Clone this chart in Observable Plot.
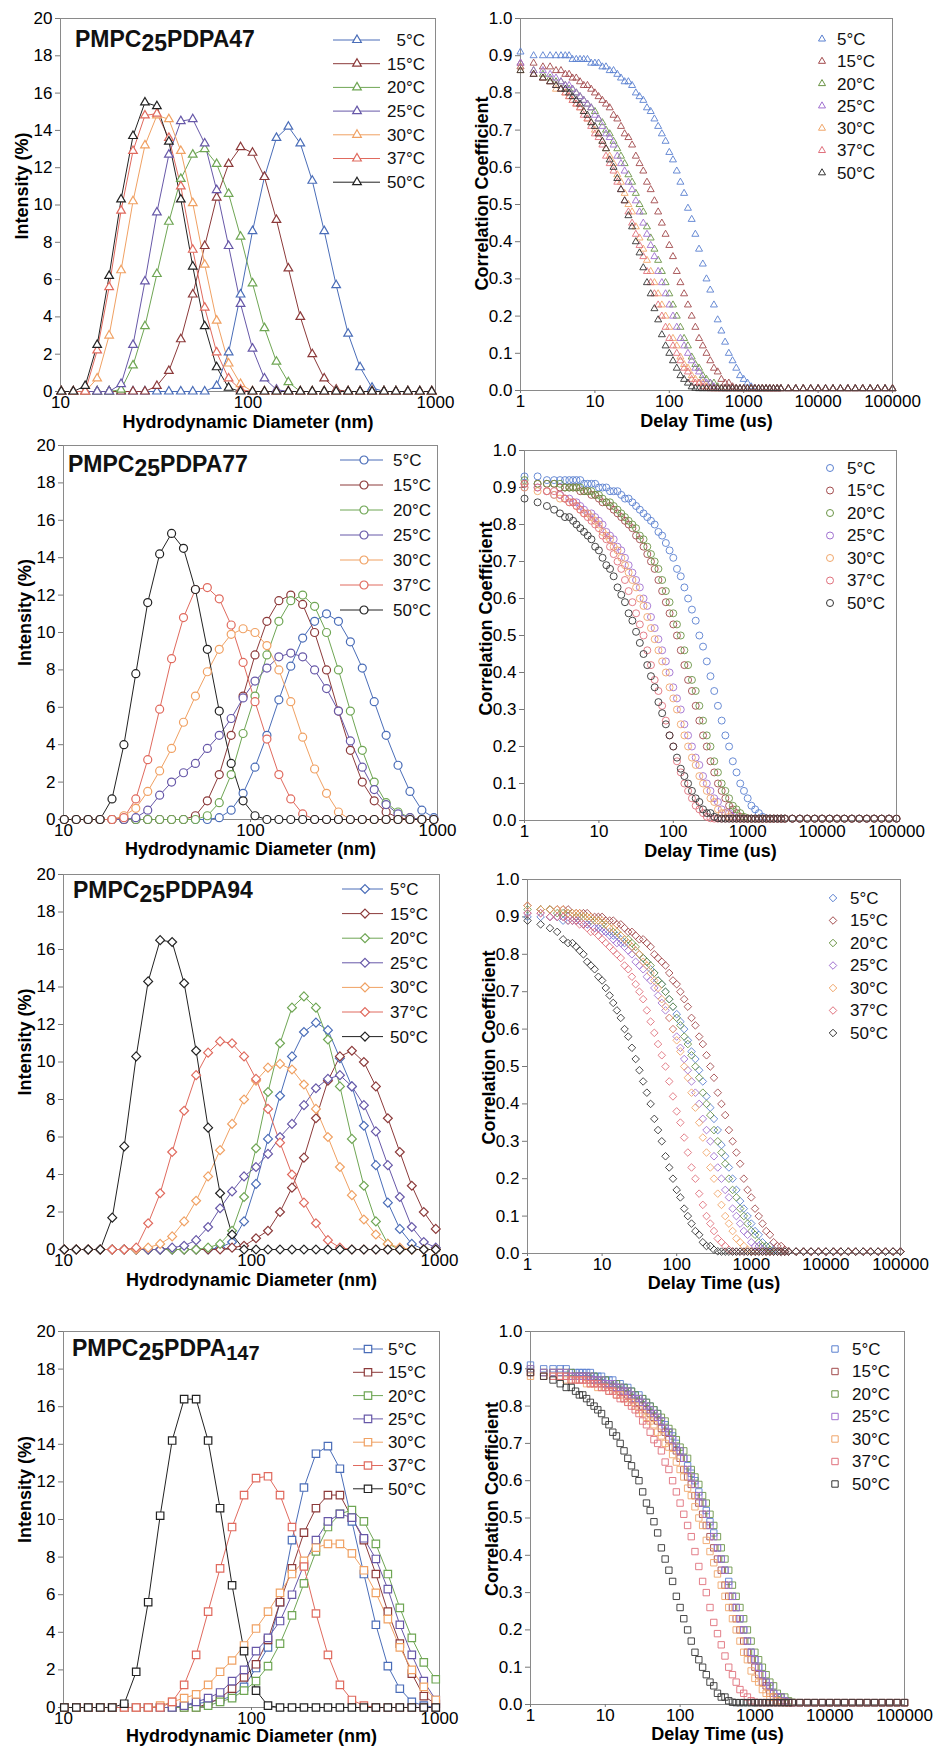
<!DOCTYPE html>
<html><head><meta charset="utf-8">
<script src="https://cdn.jsdelivr.net/npm/d3@7"></script>
<script src="https://cdn.jsdelivr.net/npm/@observablehq/plot@0.6"></script>
<style>
body{margin:0;background:#fff;}
#page{position:relative;width:936px;height:1746px;overflow:hidden;background:#fff;}
.panel{position:absolute;}
</style></head><body><div id="page"></div>
<script>
const temperatures = ["5°C","15°C","20°C","25°C","30°C","37°C","50°C"];
const diameterBins = [10.10,11.70,13.54,15.69,18.17,21.04,24.36,28.21,32.67,37.84,43.82,50.75,58.77,68.06,78.82,91.28,105.7,122.4,141.8,164.2,190.1,220.2,255.0,295.3,342.0,396.1,458.7,531.2,615.1,712.4,825.0,955.4];
const delayTimes = [1,1.5,2,2.5,3,3.5,4,4.5,5,5.62,6.31,7.08,7.94,8.91,10,11.2,12.6,14.1,15.8,17.8,20,22.4,25.1,28.2,31.6,35.5,39.8,44.7,50.1,56.2,63.1,70.8,79.4,89.1,100,112,126,141,158,178,200,224,251,282,316,355,398,447,501,562,631,708,794,891,1000,1122,1259,1413,1585,1778,1995,2239,2512,2818,3162,3981,5012,6310,7943,10000,12589,15849,19953,25119,31623,39811,50119,63096,79433,100000];
const intensityTicks = [0,2,4,6,8,10,12,14,16,18,20];
const diameterTicks = [10,100,1000];
const correlationTicks = [0,0.1,0.2,0.3,0.4,0.5,0.6,0.7,0.8,0.9,1.0];
const delayTicks = [1,10,100,1000,10000,100000];

// Intensity distributions (%)
const int47_5 = [0,0,0,0,0,0,0,0,0,0,0,0,0,.3,2.1,5.2,8.6,11.5,13.6,14.2,13.3,11.3,8.6,5.7,3.1,1.3,.2,0,0,0,0,0];
const int47_15 = [0,0,0,0,0,0,0,0,.3,1.1,2.8,5.2,7.8,10.4,12.2,13.1,12.8,11.5,9.2,6.6,4.0,2.0,.7,.1,0,0,0,0,0,0,0,0];
const int47_20 = [0,0,0,0,0,.1,1.4,3.5,6.3,9.1,11.4,12.7,13.0,12.2,10.6,8.3,5.8,3.4,1.6,.5,0,0,0,0,0,0,0,0,0,0,0,0];
const int47_25 = [0,0,0,0,0,.4,2.5,5.9,9.6,12.7,14.5,14.6,13.3,10.8,7.8,4.7,2.3,.7,.1,0,0,0,0,0,0,0,0,0,0,0,0,0];
const int47_30 = [0,0,0,.7,3.0,6.5,10.2,13.2,14.8,14.6,12.9,10.1,6.8,3.8,1.5,.4,0,0,0,0,0,0,0,0,0,0,0,0,0,0,0,0];
const int47_37 = [0,0,0,2.2,5.6,9.7,12.9,14.8,14.9,13.6,11.0,7.6,4.5,2.1,.7,.1,0,0,0,0,0,0,0,0,0,0,0,0,0,0,0,0];
const int47_50 = [0,0,.3,2.5,6.2,10.3,13.7,15.5,15.3,13.4,10.3,6.7,3.5,1.3,.2,0,0,0,0,0,0,0,0,0,0,0,0,0,0,0,0,0];

const int77_5 = [0,0,0,0,0,0,0,0,0,0,0,0,0,.1,.5,1.4,2.8,4.5,6.4,8.2,9.7,10.6,11.0,10.6,9.5,8.1,6.3,4.5,2.9,1.5,.5,.1];
const int77_15 = [0,0,0,0,0,0,0,0,0,0,0,.2,1.0,2.4,4.5,6.6,8.8,10.6,11.7,12.0,11.5,10.0,8.0,5.8,3.7,2.0,1.0,.4,.1,0,0,0];
const int77_20 = [0,0,0,0,0,0,0,0,0,0,0,0,.2,.9,2.4,4.6,6.6,8.8,10.6,11.7,12.0,11.4,10.0,8.0,5.8,3.7,2.0,.9,.4,.1,0,0];
const int77_25 = [0,0,0,0,0,0,.1,.5,1.3,2.0,2.5,3.0,3.8,4.5,5.4,6.5,7.4,8.1,8.7,8.9,8.7,8.0,7.0,5.8,4.2,2.8,1.6,.8,.3,.1,0,0];
const int77_30 = [0,0,0,0,0,.2,.6,1.5,2.6,3.8,5.2,6.6,7.9,9.1,9.9,10.2,10.0,9.3,8.0,6.3,4.4,2.7,1.4,.4,0,0,0,0,0,0,0,0];
const int77_37 = [0,0,0,0,0,.1,1.1,3.2,5.9,8.6,10.8,12.3,12.4,11.8,10.4,8.4,6.3,4.3,2.4,1.1,.3,0,0,0,0,0,0,0,0,0,0,0];
const int77_50 = [0,0,0,0,1.1,4.0,7.8,11.6,14.2,15.3,14.5,12.3,9.1,5.8,3.0,1.0,.2,0,0,0,0,0,0,0,0,0,0,0,0,0,0,0];

const int94_5 = [0,0,0,0,0,0,0,0,0,0,0,0,0,.1,.4,1.5,3.5,5.9,8.2,10.3,11.6,12.1,11.7,10.2,8.7,6.6,4.5,2.5,1.1,.3,0,0];
const int94_15 = [0,0,0,0,0,0,0,0,0,0,0,0,0,0,.1,.2,.6,1.0,2.0,3.3,4.9,7.0,9.0,10.3,10.6,10.0,8.7,7.0,5.2,3.4,2.0,1.1];
const int94_20 = [0,0,0,0,0,0,0,0,0,0,0,0,.1,.3,1.0,2.8,5.4,8.4,11.0,12.9,13.5,12.9,11.2,8.7,5.9,3.4,1.5,.3,0,0,0,0];
const int94_25 = [0,0,0,0,0,0,0,0,0,.1,.2,.5,1.2,2.2,3.1,3.9,4.4,5.1,6.0,6.7,7.7,8.6,9.1,9.3,8.7,7.7,6.3,4.5,2.8,1.2,.4,.1];
const int94_30 = [0,0,0,0,0,0,0,.1,.3,.7,1.5,2.6,3.9,5.3,6.7,8.0,9.0,9.7,9.9,9.6,8.8,7.5,6.0,4.4,2.9,1.6,.8,.3,.1,0,0,0];
const int94_37 = [0,0,0,0,0,0,.1,1.4,3.0,5.2,7.4,9.3,10.5,11.1,11.0,10.3,9.1,7.5,5.7,4.0,2.5,1.4,.5,.1,0,0,0,0,0,0,0,0];
const int94_50 = [0,0,0,0,1.7,5.5,10.3,14.3,16.5,16.4,14.2,10.6,6.5,3.0,.8,0,0,0,0,0,0,0,0,0,0,0,0,0,0,0,0,0];

const int147_5 = [0,0,0,0,0,0,0,0,0,0,.1,.2,.3,.4,.6,1.1,2.1,3.2,5.6,8.9,11.7,13.5,13.9,12.7,9.9,7.1,4.4,2.2,1.0,.3,.1,0];
const int147_15 = [0,0,0,0,0,0,0,0,0,0,0,0,.2,.5,1.0,1.6,2.3,3.6,5.6,7.4,9.3,10.6,11.3,11.3,10.1,8.9,7.1,5.1,3.4,1.8,.6,.2];
const int147_20 = [0,0,0,0,0,0,0,0,0,0,0,0,.1,.3,.5,.9,1.4,2.2,3.4,4.9,6.6,8.3,9.6,10.3,10.5,9.9,8.7,7.1,5.3,3.7,2.4,1.5];
const int147_25 = [0,0,0,0,0,0,0,0,0,0,.1,.3,.5,.8,1.4,2.0,3.0,3.7,4.6,6.0,7.6,8.9,9.9,10.3,10.1,9.0,7.9,6.3,4.4,2.8,1.4,.4];
const int147_30 = [0,0,0,0,0,0,0,0,.1,.3,.5,.7,1.2,1.9,2.5,3.3,4.2,5.1,6.1,7.1,7.8,8.5,8.7,8.7,8.2,7.3,6.1,4.7,3.2,2.0,1.1,.4];
const int147_37 = [0,0,0,0,0,0,0,0,0,.3,1.2,2.8,5.1,7.4,9.6,11.3,12.2,12.3,11.3,9.6,7.5,5.0,2.8,1.2,.4,.1,0,0,0,0,0,0];
const int147_50 = [0,0,0,0,0,.2,1.9,5.6,10.2,14.2,16.4,16.4,14.2,10.6,6.5,3.0,.9,.1,0,0,0,0,0,0,0,0,0,0,0,0,0,0];

// Correlation functions
const corr47_5 = [.91,.90,.90,.90,.90,.90,.90,.90,
.89,.89,.89,.89,.89,.88,.88,.88,.87,.87,.86,.86,.85,.84,.83,.83,.82,.80,.79,.78,.76,.75,.73,.71,.69,.67,.64,.62,.59,.56,.53,.49,.46,.42,.38,.34,.30,.27,.23,.19,.16,.13,.10,.08,.06,.04,.03,.02,.01,.006,
.005,.005,.005,.005,.005,.005,.005,.005,.005,.005,.005,.005,.005,.005,.005,.005,.005,.005,.005,.005,.005,.005];
const corr47_15 = [.88,.88,.87,.87,.86,.86,.85,.85,
.84,.84,.83,.82,.82,.81,.80,.79,.78,.77,.76,.74,.73,.71,.69,.68,.66,.63,.61,.59,.56,.54,.51,.48,.45,.42,.39,.36,.32,.29,.26,.23,.20,.17,.14,.12,.10,.08,.06,.05,.03,.02,.02,.01,.006,
.005,.005,.005,.005,.005,.005,.005,.005,.005,.005,.005,.005,.005,.005,.005,.005,.005,.005,.005,.005,.005,.005,.005,.005,.005,.005,.005];
const corr47_20 = [.87,.86,.85,.84,.83,.83,.82,.81,
.81,.80,.79,.78,.77,.76,.75,.73,.72,.70,.69,.67,.65,.63,.61,.58,.56,.53,.50,.48,.44,.41,.38,.35,.32,.29,.26,.23,.20,.17,.14,.12,.09,.07,.06,.04,.03,.02,.02,.01,.006,
.005,.005,.005,.005,.005,.005,.005,.005,.005,.005,.005,.005,.005,.005,.005,.005,.005,.005,.005,.005,.005,.005,.005,.005,.005,.005,.005,.005,.005,.005,.005];
const corr47_25 = [.88,.86,.86,.85,.84,.83,.82,.82,
.81,.80,.79,.78,.77,.76,.74,.73,.71,.69,.68,.66,.63,.61,.59,.56,.54,.51,.48,.45,.42,.39,.36,.32,.29,.26,.23,.20,.17,.14,.12,.10,.08,.06,.05,.03,.02,.02,.01,.006,
.005,.005,.005,.005,.005,.005,.005,.005,.005,.005,.005,.005,.005,.005,.005,.005,.005,.005,.005,.005,.005,.005,.005,.005,.005,.005,.005,.005,.005,.005,.005,.005];
const corr47_30 = [.86,.85,.84,.83,.81,.81,.80,.79,
.78,.77,.76,.75,.73,.72,.70,.69,.67,.65,.63,.61,.58,.56,.53,.50,.48,.44,.41,.38,.35,.32,.29,.26,.23,.20,.17,.14,.12,.09,.07,.06,.04,.03,.02,.02,.01,.006,
.005,.005,.005,.005,.005,.005,.005,.005,.005,.005,.005,.005,.005,.005,.005,.005,.005,.005,.005,.005,.005,.005,.005,.005,.005,.005,.005,.005,.005,.005,.005,.005,.005,.005];
const corr47_37 = [.87,.85,.84,.83,.82,.81,.80,.79,
.78,.77,.76,.74,.73,.71,.69,.68,.66,.63,.61,.59,.56,.54,.51,.48,.45,.42,.39,.36,.32,.29,.26,.23,.20,.17,.14,.12,.10,.08,.06,.05,.03,.02,.02,.01,.006,
.005,.005,.005,.005,.005,.005,.005,.005,.005,.005,.005,.005,.005,.005,.005,.005,.005,.005,.005,.005,.005,.005,.005,.005,.005,.005,.005,.005,.005,.005,.005,.005,.005,.005,.005];
const corr47_50 = [.86,.85,.84,.83,.82,.81,.81,.80,
.79,.78,.77,.75,.74,.72,.71,.69,.67,.65,.62,.60,.57,.54,.51,.47,.44,.40,.37,.33,.29,.26,.22,.19,.15,.12,.10,.08,.06,.04,.03,.02,.01,.006,
.005,.005,.005,.005,.005,.005,.005,.005,.005,.005,.005,.005,.005,.005,.005,.005,.005,.005,.005,.005,.005,.005,.005,.005,.005,.005,.005,.005,.005,.005,.005,.005,.005,.005,.005,.005,.005,.005];

const corr77_5 = [.93,.93,.92,.92,.92,.92,.92,.92,
.92,.92,.91,.91,.91,.91,.90,.90,.90,.89,.89,.89,.88,.87,.87,.86,.85,.84,.83,.82,.81,.80,.78,.77,.75,.73,.71,.68,.66,.63,.60,.57,.54,.50,.47,.43,.39,.35,.31,.27,.23,.20,.16,.13,.10,.08,.06,.04,.03,.02,.01,.006,
.005,.005,.005,.005,.005,.005,.005,.005,.005,.005,.005,.005,.005,.005,.005,.005,.005,.005,.005,.005];
const corr77_15 = [.91,.91,.91,.91,.90,.90,.90,.90,
.90,.89,.89,.89,.88,.88,.87,.86,.86,.85,.84,.83,.82,.81,.80,.79,.77,.76,.74,.72,.70,.68,.65,.62,.59,.56,.53,.50,.46,.42,.38,.35,.31,.27,.23,.20,.16,.13,.10,.08,.06,.04,.03,.02,.01,.006,
.005,.005,.005,.005,.005,.005,.005,.005,.005,.005,.005,.005,.005,.005,.005,.005,.005,.005,.005,.005,.005,.005,.005,.005,.005,.005];
const corr77_20 = [.92,.91,.91,.91,.91,.90,.90,.90,
.90,.90,.89,.89,.89,.88,.88,.87,.86,.86,.85,.84,.83,.82,.81,.80,.79,.77,.76,.74,.72,.70,.68,.65,.62,.59,.56,.53,.50,.46,.42,.38,.35,.31,.27,.23,.20,.16,.13,.10,.08,.06,.04,.03,.02,.01,.006,
.005,.005,.005,.005,.005,.005,.005,.005,.005,.005,.005,.005,.005,.005,.005,.005,.005,.005,.005,.005,.005,.005,.005,.005,.005];
const corr77_25 = [.90,.90,.89,.88,.88,.87,.87,.86,
.86,.85,.84,.83,.83,.82,.81,.80,.78,.77,.76,.74,.73,.71,.69,.67,.65,.63,.60,.58,.55,.52,.49,.46,.43,.40,.36,.33,.30,.26,.23,.20,.17,.15,.12,.10,.08,.06,.05,.03,.02,.02,.01,.006,
.005,.005,.005,.005,.005,.005,.005,.005,.005,.005,.005,.005,.005,.005,.005,.005,.005,.005,.005,.005,.005,.005,.005,.005,.005,.005,.005,.005];
const corr77_30 = [.90,.89,.89,.88,.87,.87,.86,.86,
.85,.84,.83,.83,.82,.81,.80,.78,.77,.76,.74,.73,.71,.69,.67,.65,.63,.60,.58,.55,.52,.49,.46,.43,.40,.36,.33,.30,.26,.23,.20,.17,.15,.12,.10,.08,.06,.05,.03,.02,.02,.01,.006,
.005,.005,.005,.005,.005,.005,.005,.005,.005,.005,.005,.005,.005,.005,.005,.005,.005,.005,.005,.005,.005,.005,.005,.005,.005,.005,.005,.005,.005];
const corr77_37 = [.91,.90,.89,.89,.88,.87,.86,.86,
.85,.84,.83,.82,.81,.80,.79,.77,.76,.74,.72,.70,.68,.65,.62,.59,.56,.53,.50,.46,.42,.38,.35,.31,.27,.23,.20,.16,.13,.10,.08,.06,.04,.03,.02,.01,.006,
.005,.005,.005,.005,.005,.005,.005,.005,.005,.005,.005,.005,.005,.005,.005,.005,.005,.005,.005,.005,.005,.005,.005,.005,.005,.005,.005,.005,.005,.005,.005,.005,.005,.005,.005];
const corr77_50 = [.87,.86,.85,.84,.83,.82,.82,.81,
.80,.79,.78,.77,.76,.74,.73,.71,.69,.68,.66,.63,.61,.59,.56,.54,.51,.48,.45,.42,.39,.36,.32,.29,.26,.23,.20,.17,.14,.12,.10,.08,.06,.05,.03,.02,.02,.01,.006,
.005,.005,.005,.005,.005,.005,.005,.005,.005,.005,.005,.005,.005,.005,.005,.005,.005,.005,.005,.005,.005,.005,.005,.005,.005,.005,.005,.005,.005,.005,.005,.005,.005];

const corr94_5 = [.90,.90,.90,.90,.89,.89,.89,.89,
.89,.88,.88,.88,.87,.87,.87,.86,.86,.85,.85,.84,.83,.83,.82,.81,.80,.79,.78,.76,.75,.73,.72,.70,.68,.66,.64,.62,.60,.57,.54,.52,.49,.46,.42,.39,.36,.33,.29,.26,.23,.20,.17,.14,.12,.10,.08,.06,.05,.03,.02,.02,.01,.006,
.005,.005,.005,.005,.005,.005,.005,.005,.005,.005,.005,.005,.005,.005,.005,.005,.005,.005];
const corr94_15 = [.93,.92,.92,.92,.92,.92,.91,.91,
.91,.91,.91,.90,.90,.90,.90,.89,.89,.89,.88,.88,.87,.86,.86,.85,.84,.84,.83,.82,.80,.79,.78,.77,.75,.73,.72,.70,.68,.66,.63,.61,.58,.56,.53,.50,.47,.43,.40,.37,.33,.30,.27,.24,.20,.17,.15,.12,.10,.08,.06,.05,.03,.02,.02,.01,.006,
.005,.005,.005,.005,.005,.005,.005,.005,.005,.005,.005,.005,.005,.005,.005];
const corr94_20 = [.92,.92,.92,.91,.91,.91,.91,.90,
.90,.90,.90,.89,.89,.89,.88,.88,.87,.86,.86,.85,.84,.84,.83,.82,.80,.79,.78,.77,.75,.73,.72,.70,.68,.66,.63,.61,.58,.56,.53,.50,.47,.43,.40,.37,.33,.30,.27,.24,.20,.17,.15,.12,.10,.08,.06,.05,.03,.02,.02,.01,.006,
.005,.005,.005,.005,.005,.005,.005,.005,.005,.005,.005,.005,.005,.005,.005,.005,.005,.005,.005];
const corr94_25 = [.91,.91,.90,.90,.90,.90,.89,.89,
.89,.88,.88,.88,.87,.87,.86,.86,.85,.84,.83,.83,.82,.81,.80,.78,.77,.76,.74,.73,.71,.69,.67,.65,.63,.60,.58,.55,.52,.49,.46,.43,.40,.36,.33,.30,.26,.23,.20,.17,.15,.12,.10,.08,.06,.05,.03,.02,.02,.01,.006,
.005,.005,.005,.005,.005,.005,.005,.005,.005,.005,.005,.005,.005,.005,.005,.005,.005,.005,.005,.005,.005];
const corr94_30 = [.93,.92,.92,.92,.92,.91,.91,.91,
.91,.90,.90,.90,.89,.89,.89,.88,.87,.87,.86,.85,.84,.83,.82,.81,.80,.78,.77,.75,.73,.71,.68,.66,.63,.60,.57,.54,.50,.47,.43,.39,.35,.31,.27,.23,.20,.16,.13,.10,.08,.06,.04,.03,.02,.01,.006,
.005,.005,.005,.005,.005,.005,.005,.005,.005,.005,.005,.005,.005,.005,.005,.005,.005,.005,.005,.005,.005,.005,.005,.005,.005];
const corr94_37 = [.91,.91,.90,.90,.90,.89,.89,.89,
.88,.88,.87,.86,.86,.85,.84,.83,.82,.81,.80,.79,.77,.76,.74,.72,.70,.68,.65,.62,.59,.56,.53,.50,.46,.42,.38,.35,.31,.27,.23,.20,.16,.13,.10,.08,.06,.04,.03,.02,.01,.006,
.005,.005,.005,.005,.005,.005,.005,.005,.005,.005,.005,.005,.005,.005,.005,.005,.005,.005,.005,.005,.005,.005,.005,.005,.005,.005,.005,.005,.005,.005];
const corr94_50 = [.89,.88,.87,.86,.84,.83,.83,.82,
.81,.80,.78,.77,.76,.74,.73,.71,.69,.67,.65,.63,.60,.58,.55,.52,.49,.46,.43,.40,.36,.33,.30,.26,.23,.20,.17,.15,.12,.10,.08,.06,.05,.03,.02,.02,.01,.006,
.005,.005,.005,.005,.005,.005,.005,.005,.005,.005,.005,.005,.005,.005,.005,.005,.005,.005,.005,.005,.005,.005,.005,.005,.005,.005,.005,.005,.005,.005,.005,.005,.005,.005];

const corr147_5 = [.91,.90,.90,.90,.90,.89,.89,.89,
.89,.89,.89,.88,.88,.88,.87,.87,.87,.86,.86,.85,.85,.84,.83,.83,.82,.81,.80,.79,.78,.76,.75,.73,.72,.70,.68,.66,.64,.62,.60,.57,.54,.52,.49,.46,.42,.39,.36,.33,.29,.26,.23,.20,.17,.14,.12,.10,.08,.06,.05,.03,.02,.02,.01,.006,
.005,.005,.005,.005,.005,.005,.005,.005,.005,.005,.005,.005,.005,.005,.005,.005];
const corr147_15 = [.89,.89,.89,.89,.88,.88,.88,.88,
.88,.88,.87,.87,.87,.86,.86,.86,.85,.85,.84,.84,.83,.82,.82,.81,.80,.79,.78,.77,.76,.74,.73,.71,.69,.68,.66,.63,.61,.59,.56,.54,.51,.48,.45,.42,.39,.36,.32,.29,.26,.23,.20,.17,.14,.12,.10,.08,.06,.05,.03,.02,.02,.01,.006,
.005,.005,.005,.005,.005,.005,.005,.005,.005,.005,.005,.005,.005,.005,.005,.005,.005];
const corr147_20 = [.90,.89,.89,.89,.89,.89,.88,.88,
.88,.88,.88,.88,.87,.87,.87,.86,.86,.86,.85,.85,.84,.84,.83,.82,.82,.81,.80,.79,.78,.77,.76,.74,.73,.71,.69,.68,.66,.63,.61,.59,.56,.54,.51,.48,.45,.42,.39,.36,.32,.29,.26,.23,.20,.17,.14,.12,.10,.08,.06,.05,.03,.02,.02,.01,.006,
.005,.005,.005,.005,.005,.005,.005,.005,.005,.005,.005,.005,.005,.005,.005];
const corr147_25 = [.90,.89,.89,.89,.89,.88,.88,.88,
.88,.88,.88,.87,.87,.87,.86,.86,.86,.85,.85,.84,.84,.83,.82,.82,.81,.80,.79,.78,.77,.76,.74,.73,.71,.69,.68,.66,.63,.61,.59,.56,.54,.51,.48,.45,.42,.39,.36,.32,.29,.26,.23,.20,.17,.14,.12,.10,.08,.06,.05,.03,.02,.02,.01,.006,
.005,.005,.005,.005,.005,.005,.005,.005,.005,.005,.005,.005,.005,.005,.005,.005];
const corr147_30 = [.88,.88,.88,.88,.87,.87,.87,.87,
.87,.86,.86,.86,.85,.85,.85,.84,.84,.83,.83,.82,.81,.81,.80,.79,.78,.77,.76,.75,.73,.72,.70,.69,.67,.65,.63,.61,.58,.56,.53,.50,.48,.44,.41,.38,.35,.32,.29,.26,.23,.20,.17,.14,.12,.09,.07,.06,.04,.03,.02,.02,.01,.006,
.005,.005,.005,.005,.005,.005,.005,.005,.005,.005,.005,.005,.005,.005,.005,.005,.005,.005];
const corr147_37 = [.89,.88,.88,.88,.88,.87,.87,.87,
.87,.87,.86,.86,.86,.85,.85,.84,.84,.83,.82,.82,.81,.80,.79,.78,.76,.75,.73,.71,.70,.68,.65,.63,.60,.57,.54,.51,.48,.45,.41,.37,.33,.30,.26,.22,.19,.16,.13,.10,.08,.06,.04,.03,.02,.01,.006,
.005,.005,.005,.005,.005,.005,.005,.005,.005,.005,.005,.005,.005,.005,.005,.005,.005,.005,.005,.005,.005,.005,.005,.005,.005];
const corr147_50 = [.89,.88,.87,.86,.85,.85,.84,.83,
.83,.82,.81,.80,.79,.78,.76,.75,.73,.72,.70,.68,.66,.64,.62,.60,.57,.54,.52,.49,.46,.42,.39,.36,.33,.29,.26,.23,.20,.17,.14,.12,.10,.08,.06,.05,.03,.02,.02,.01,.006,
.005,.005,.005,.005,.005,.005,.005,.005,.005,.005,.005,.005,.005,.005,.005,.005,.005,.005,.005,.005,.005,.005,.005,.005,.005,.005,.005,.005,.005,.005,.005];

// Styles
const FONT = '"Liberation Sans", Arial, Helvetica, sans-serif';
const lineColors = ["#4a6db8","#8c3a3a","#6fa654","#6758a8","#f0a163","#e06a5e","#222222"];
const markerColors = ["#5a80d0","#a24a4c","#6a9445","#a070d0","#f0a66a","#e0707c","#333333"];
const ML = 55, MT = 10, MR = 15, MB = 50;

const checks = {int47_5,int47_15,int47_20,int47_25,int47_30,int47_37,int47_50,int77_5,int77_15,int77_20,int77_25,int77_30,int77_37,int77_50,int94_5,int94_15,int94_20,int94_25,int94_30,int94_37,int94_50,int147_5,int147_15,int147_20,int147_25,int147_30,int147_37,int147_50};
for (const [k, v] of Object.entries(checks)) if (v.length !== diameterBins.length) throw new Error(k + " has length " + v.length);
const checks2 = {corr47_5,corr47_15,corr47_20,corr47_25,corr47_30,corr47_37,corr47_50,corr77_5,corr77_15,corr77_20,corr77_25,corr77_30,corr77_37,corr77_50,corr94_5,corr94_15,corr94_20,corr94_25,corr94_30,corr94_37,corr94_50,corr147_5,corr147_15,corr147_20,corr147_25,corr147_30,corr147_37,corr147_50};
for (const [k, v] of Object.entries(checks2)) if (v.length !== delayTimes.length) throw new Error(k + " has length " + v.length);

const panels = [
  {kind:"int", series:[int47_5,int47_15,int47_20,int47_25,int47_30,int47_37,int47_50], symbol:"triangle", r:3.2,
   left:60, top:18, w:375, h:373, title:[["PMPC",0],["25",1],["PDPA",0],["47",0]], tx:15, ty:29,
   leg:{x0:273,x1:320,mx:297,tx:365,anchor:"end",y0:22,dy:23.7}, xdy:31, ydy:-19},
  {kind:"corr", series:[corr47_5,corr47_15,corr47_20,corr47_25,corr47_30,corr47_37,corr47_50], symbol:"triangle", r:2.6,
   left:520, top:18, w:372, h:372, leg:{mx:302,tx:317,y0:21,dy:22.3}, xdy:31, ydy:-11},
  {kind:"int", series:[int77_5,int77_15,int77_20,int77_25,int77_30,int77_37,int77_50], symbol:"circle", r:4,
   left:63, top:445, w:374, h:374, title:[["PMPC",0],["25",1],["PDPA",0],["77",0]], tx:5, ty:27,
   leg:{x0:277,x1:320,mx:301,tx:330,anchor:"start",y0:15,dy:25}, xdy:30, ydy:-20},
  {kind:"corr", series:[corr77_5,corr77_15,corr77_20,corr77_25,corr77_30,corr77_37,corr77_50], symbol:"circle", r:3.5,
   left:524, top:450, w:372, h:370, leg:{mx:306,tx:323,y0:18,dy:22.5}, xdy:31, ydy:-17},
  {kind:"int", series:[int94_5,int94_15,int94_20,int94_25,int94_30,int94_37,int94_50], symbol:"diamond2", r:4,
   left:63, top:874, w:376, h:375, title:[["PMPC",0],["25",1],["PDPA",0],["94",0]], tx:10, ty:24,
   leg:{x0:279,x1:320,mx:302,tx:327,anchor:"start",y0:15,dy:24.6}, xdy:31, ydy:-20},
  {kind:"corr", series:[corr94_5,corr94_15,corr94_20,corr94_25,corr94_30,corr94_37,corr94_50], symbol:"diamond2", r:3.4,
   left:527, top:879, w:373, h:374, leg:{mx:306,tx:323,y0:19,dy:22.5}, xdy:30, ydy:-19},
  {kind:"int", series:[int147_5,int147_15,int147_20,int147_25,int147_30,int147_37,int147_50], symbol:"square", r:4.2,
   left:63, top:1331, w:376, h:376, title:[["PMPC",0],["25",1],["PDPA",0],["147",2]], tx:9, ty:25,
   leg:{x0:290,x1:320,mx:305,tx:325,anchor:"start",y0:18,dy:23.3}, xdy:29, ydy:-30},
  {kind:"corr", series:[corr147_5,corr147_15,corr147_20,corr147_25,corr147_30,corr147_37,corr147_50], symbol:"square", r:3.6,
   left:530, top:1331, w:374, h:373, leg:{mx:305,tx:322,y0:18,dy:22.5}, xdy:30, ydy:-19}
];

const symbolMap = {triangle: d3.symbolTriangle, circle: d3.symbolCircle, diamond2: d3.symbolDiamond2, square: d3.symbolSquare};
const page = document.getElementById("page");

for (const cfg of panels) {
  const isInt = cfg.kind === "int";
  const colors = isInt ? lineColors : markerColors;
  const xs = isInt ? diameterBins : delayTimes;
  const data = cfg.series.flatMap((s, k) => s.map((v, i) => ({x: xs[i], y: v, t: temperatures[k]})));
  const marks = [
    Plot.frame({stroke: "#8a8a8a", strokeWidth: 1}),
    Plot.axisY(isInt ? intensityTicks : correlationTicks, {
      tickSize: 5, tickPadding: 3, stroke: "#777", fontSize: 17, label: null,
      tickFormat: isInt ? (d => String(d)) : d3.format(".1f")}),
    Plot.axisX(isInt ? diameterTicks : delayTicks, {
      tickSize: 3, tickPadding: 1, stroke: "#777", fontSize: 17, label: null, tickFormat: d => String(d)})
  ];
  if (isInt) marks.push(Plot.line(data, {x: "x", y: "y", z: "t", stroke: "t", strokeWidth: 1}));
  marks.push(Plot.dot(data, {x: "x", y: "y", stroke: "t", symbol: cfg.symbol, r: cfg.r,
    fill: isInt ? "white" : "none", strokeWidth: isInt ? 1.2 : 0.9}));
  marks.push(Plot.text([isInt ? "Hydrodynamic Diameter (nm)" : "Delay Time (us)"],
    {frameAnchor: "bottom", dy: cfg.xdy, text: d => d, fontWeight: "bold", fontSize: 18,
     textAnchor: "middle", lineAnchor: "middle"}));
  marks.push(Plot.text([isInt ? "Intensity (%)" : "Correlation Coefficient"],
    {frameAnchor: "left", dx: -38, dy: cfg.ydy, rotate: -90, text: d => d, fontWeight: "bold", fontSize: 18,
     textAnchor: "middle", lineAnchor: "middle"}));

  const W = ML + cfg.w + MR, H = MT + cfg.h + MB;
  const svg = Plot.plot({
    width: W, height: H, marginLeft: ML, marginRight: MR, marginTop: MT, marginBottom: MB,
    x: {type: "log", domain: isInt ? [10, 1000] : [1, 100000]},
    y: {domain: isInt ? [0, 20] : [0, 1]},
    color: {domain: temperatures, range: colors},
    style: {fontFamily: FONT, fontSize: "17px", background: "transparent", overflow: "visible", color: "black"},
    marks
  });

  const g = d3.select(svg).append("g").attr("font-family", FONT);
  if (cfg.title) {
    const t = g.append("text").attr("x", ML + cfg.tx).attr("y", MT + cfg.ty).attr("text-anchor", "start")
      .attr("font-weight", "bold").attr("font-size", 23).attr("fill", "#111");
    let shift = 0;
    for (const [s, sub] of cfg.title) {
      const want = sub ? 4 : 0;
      t.append("tspan").attr("dy", want - shift).attr("font-size", sub === 2 ? 20 : 23).text(s);
      shift = want;
    }
  }
  const L = cfg.leg;
  temperatures.forEach((lab, k) => {
    const y = MT + L.y0 + k * L.dy;
    if (isInt) g.append("line").attr("x1", ML + L.x0).attr("x2", ML + L.x1).attr("y1", y).attr("y2", y)
      .attr("stroke", colors[k]).attr("stroke-width", 1);
    g.append("path").attr("transform", `translate(${ML + L.mx},${y})`)
      .attr("d", d3.symbol(symbolMap[cfg.symbol], Math.PI * cfg.r * cfg.r)())
      .attr("fill", isInt ? "white" : "none").attr("stroke", colors[k]).attr("stroke-width", isInt ? 1.2 : 1);
    g.append("text").attr("x", ML + L.tx).attr("y", y).attr("dy", "0.35em")
      .attr("text-anchor", L.anchor || "start").attr("font-size", 17).attr("fill", "#111").text(lab);
  });

  const div = document.createElement("div");
  div.className = "panel";
  div.style.left = (cfg.left - ML) + "px";
  div.style.top = (cfg.top - MT) + "px";
  div.style.width = W + "px";
  div.appendChild(svg);
  page.appendChild(div);
}
</script>
</body></html>
